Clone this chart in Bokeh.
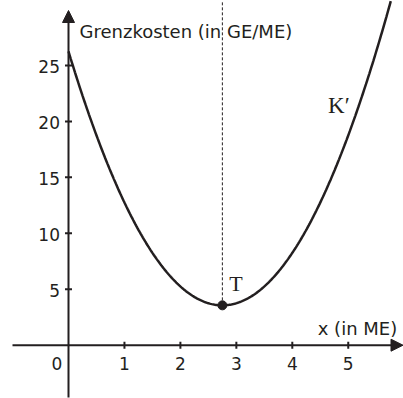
import numpy as np
from bokeh.plotting import figure
from bokeh.models import Range1d, Arrow, NormalHead
from bokeh.core.properties import value
from bokeh.embed import file_html
from bokeh.resources import INLINE

# ---------------- data ----------------
# Marginal cost function K'(x) = a x^2 + b x + c
coef_a = 3.0
coef_b = -16.5
coef_c = 26.25
x_curve_start = 0.0
x_curve_end = 5.76
x_ticks = [1, 2, 3, 4, 5]
x_tick_labels = ["1", "2", "3", "4", "5"]
y_ticks = [5, 10, 15, 20, 25]
y_tick_labels = ["5", "10", "15", "20", "25"]
origin_label = "0"
y_title = "Grenzkosten (in GE/ME)"
x_title = "x (in ME)"
curve_label = "K\u2032"
curve_label_pos = (4.64, 20.77)
point_label = "T"

# ---------------- layout ----------------
W, H = 403, 398
X0, X1 = -1.2154, 5.9875
Y0, Y1 = -4.763, 30.804
sx = W / (X1 - X0)   # px per x unit
sy = H / (Y1 - Y0)   # px per y unit
INK = "#231f20"
SANS = value("DejaVu Sans")
SERIF = value("Liberation Serif")
LIFT = 7  # px baseline correction


def dx(px):
    return px / sx


def dy(px):
    return px / sy


p = figure(width=W, height=H, output_backend="svg", toolbar_location=None,
           x_range=Range1d(X0, X1), y_range=Range1d(Y0, Y1),
           x_axis_type=None, y_axis_type=None, min_border=0)
p.outline_line_color = None
p.background_fill_color = "white"
p.border_fill_color = "white"

# vertex of the parabola
xT = -coef_b / (2 * coef_a)
yT = coef_a * xT ** 2 + coef_b * xT + coef_c

# axes with arrows
p.add_layout(Arrow(x_start=X0 + dx(12), y_start=0, x_end=X1 - dx(0.5), y_end=0,
                   line_color=INK, line_width=2,
                   end=NormalHead(size=12, fill_color=INK, line_color=INK, line_width=1)))
p.add_layout(Arrow(x_start=0, y_start=Y0 + dy(1), x_end=0, y_end=Y1 - dy(10),
                   line_color=INK, line_width=2,
                   end=NormalHead(size=12, fill_color=INK, line_color=INK, line_width=1)))

# ticks
p.segment(x0=x_ticks, y0=[-dy(3.5)] * len(x_ticks), x1=x_ticks, y1=[dy(3.5)] * len(x_ticks),
          line_color=INK, line_width=2)
p.segment(x0=[-dx(3.5)] * len(y_ticks), y0=y_ticks, x1=[dx(3.5)] * len(y_ticks), y1=y_ticks,
          line_color=INK, line_width=2)

# tick labels
p.text(x=x_ticks, y=[-dy(25.5 - LIFT)] * len(x_ticks), text=x_tick_labels,
       text_font=SANS, text_font_size="17px", text_color=INK,
       text_align="center", text_baseline="alphabetic")
p.text(x=[-dx(11.5)], y=[-dy(25.5 - LIFT)], text=[origin_label],
       text_font=SANS, text_font_size="17px", text_color=INK,
       text_align="center", text_baseline="alphabetic")
p.text(x=[-dx(8.5)] * len(y_ticks), y=[t - dy(8.5 - LIFT) for t in y_ticks], text=y_tick_labels,
       text_font=SANS, text_font_size="17px", text_color=INK,
       text_align="right", text_baseline="alphabetic")

# axis titles
p.text(x=[dx(11)], y=[Y1 - dy(37.5 - LIFT)], text=[y_title],
       text_font=SANS, text_font_size="18px", text_color=INK,
       text_align="left", text_baseline="alphabetic")
p.text(x=[X1 - dx(6.3)], y=[dy(9.7 + LIFT)], text=[x_title],
       text_font=SANS, text_font_size="18px", text_color=INK,
       text_align="right", text_baseline="alphabetic")

# dashed line through the minimum
p.segment(x0=[xT], y0=[yT], x1=[xT], y1=[Y1], line_color=INK, line_width=1,
          line_dash="3 2")

# curve
xs = np.linspace(x_curve_start, x_curve_end, 300)
ys = coef_a * xs ** 2 + coef_b * xs + coef_c
p.line(xs, ys, line_color=INK, line_width=2.5)

# minimum point
p.scatter([xT], [yT], size=9, fill_color=INK, line_color=INK)

# labels
p.text(x=[xT + dx(7)], y=[yT + dy(14.5 + LIFT)], text=[point_label],
       text_font=SERIF, text_font_size="22px", text_color=INK,
       text_align="left", text_baseline="alphabetic")
p.text(x=[curve_label_pos[0]], y=[curve_label_pos[1] + dy(LIFT)], text=[curve_label],
       text_font=SERIF, text_font_size="23px", text_color=INK,
       text_align="left", text_baseline="alphabetic")

open("out.html", "w").write(file_html(p, INLINE))
